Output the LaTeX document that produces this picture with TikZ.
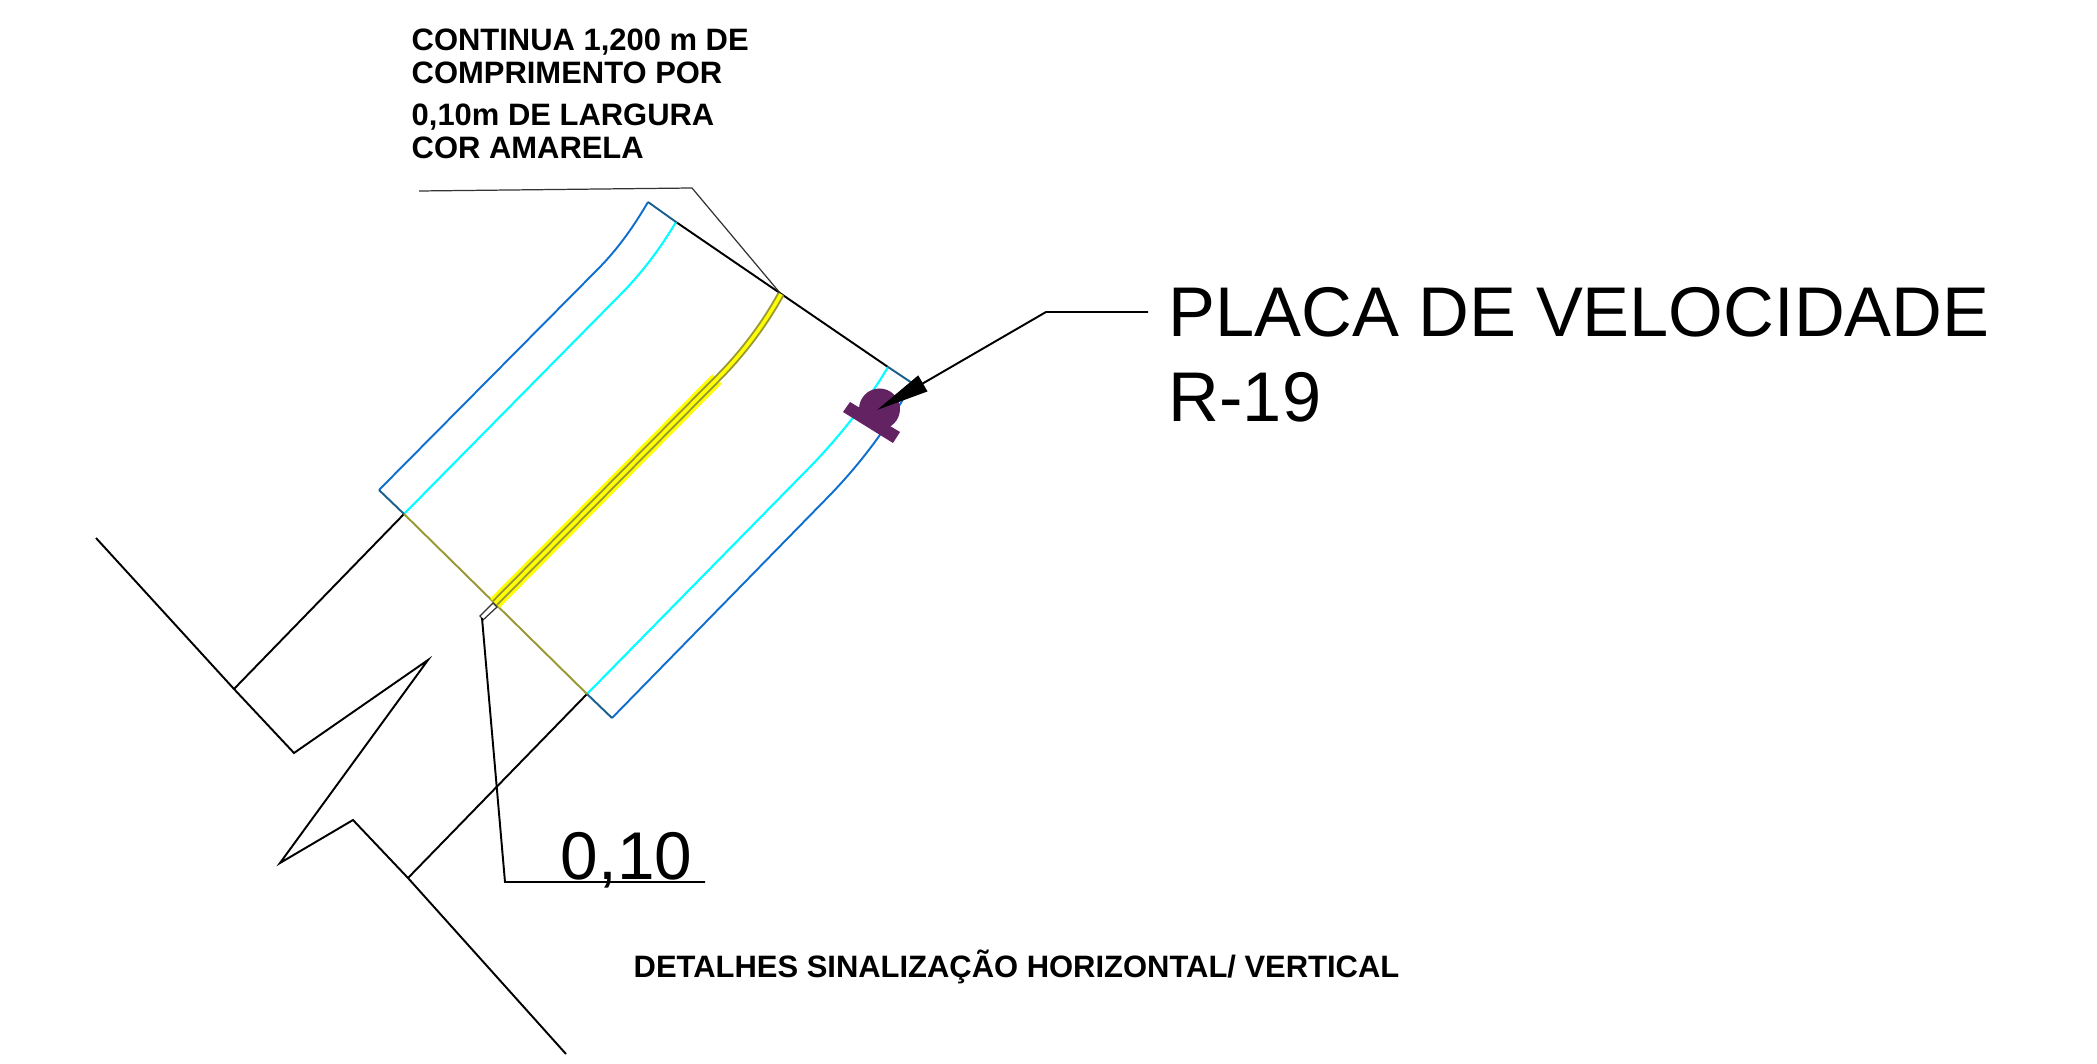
\documentclass[tikz,border=0pt]{standalone}
\usepackage{fontspec}
\setmainfont{Liberation Sans}
\usetikzlibrary{arrows.meta}
\definecolor{azulborda}{HTML}{0F6FD0}
\definecolor{azulcanto}{HTML}{1A5E8C}
\definecolor{ciano}{HTML}{00FFFF}
\definecolor{oliva}{HTML}{999933}
\definecolor{amarelo}{HTML}{FFFF00}
\definecolor{roxo}{HTML}{632363}
\tikzset{
    via/.style={black,line width=0.55pt},
    fino/.style={black!80,line width=0.35pt},
    borda/.style={azulborda,line width=0.55pt},
    canto/.style={azulcanto,line width=0.55pt},
    guia/.style={ciano,line width=0.6pt},
    notab/.style={anchor=base west,inner sep=0pt,font=\bfseries\fontsize{8.8}{10}\selectfont},
    notag/.style={anchor=base west,inner sep=0pt,font=\fontsize{20}{24}\selectfont}
}
\begin{document}
\begin{tikzpicture}[x=0.01cm,y=-0.01cm]
    \useasboundingbox (0,0) rectangle (2097,1064);
    % road edges
    \coordinate (ce) at (404,514);
    \coordinate (cd) at (587,694);
    \coordinate (te) at (676,222);
    \coordinate (td) at (888,367);
    \draw[via] (96,538)--(234,689)--(294,753)--(428,660)--(280,863)--(353,820)--(408,878)--(566,1054);
    \draw[via] (234,689)--(ce);
    \draw[via] (408,878)--(cd);
    \draw[via] (te)--(td);
    % shoulders
    \draw[borda] (379,490)--(597,270) .. controls (618,249) and (634,226) .. (648,202);
    \draw[borda] (612,718)--(830,495) .. controls (860,464) and (890,425) .. (912,383);
    \draw[guia] (ce)--(620,295) .. controls (641,274) and (660,249) .. (te);
    \draw[guia] (cd)--(807,470) .. controls (830,447) and (866,405) .. (td);
    \draw[canto] (379,490)--(ce);
    \draw[canto] (612,718)--(cd);
    \draw[canto] (648,202)--(te);
    \draw[canto] (td)--(912,383);
    \draw[oliva,line width=0.55pt] (ce)--(cd);
    % centre line
    \coordinate (fa) at (495,603);
    \coordinate (fb) at (717,379);
    \coordinate (fc) at (781,294);
    \draw[amarelo,line width=3.8pt] (fa)--(fb);
    \draw[oliva,line width=2.1pt] (fa)--(fb) .. controls (742,354) and (764,325) .. (fc);
    \draw[amarelo,line width=1pt] (fa)--(fb) .. controls (742,354) and (764,325) .. (fc);
    % sign
    \fill[roxo] (879.5,409) circle (20.5);
    \fill[roxo] (850,402)--(900,432)--(893,443)--(843,412)--cycle;
    % texts
    \node[notab] (cont1) at (411,51) {CONTINUA 1,200 m DE};
    \node[notab] (cont2) at (411,84) {COMPRIMENTO POR};
    \node[notab] (cont3) at (411,126) {0,10m DE LARGURA};
    \node[notab] (cont4) at (411,159) {COR AMARELA};
    \node[notag] (placa1) at (1168,337) {PLACA DE VELOCIDADE};
    \node[notag] (placa2) at (1168,422) {R-19};
    \node[notag,font=\fontsize{19.2}{24}\selectfont] (larg) at (560,879) {0,10};
    \node[notab] (titulo) at (633,977) {DETALHES SINALIZAÇÃO HORIZONTAL/ VERTICAL};
    % leaders
    \draw[fino] (419,191)--(692,188)--(780,293);
    \draw[fino] (480,616)--(493,603)--(497,607)--(483,620)--cycle;
    \draw[via] (482,618)--(505,882)--(705,882);
    \draw[via,-{Triangle[length=0.53cm,width=0.18cm]}] (1148,312)--(1046,312)--(877,410);
\end{tikzpicture}
\end{document}
